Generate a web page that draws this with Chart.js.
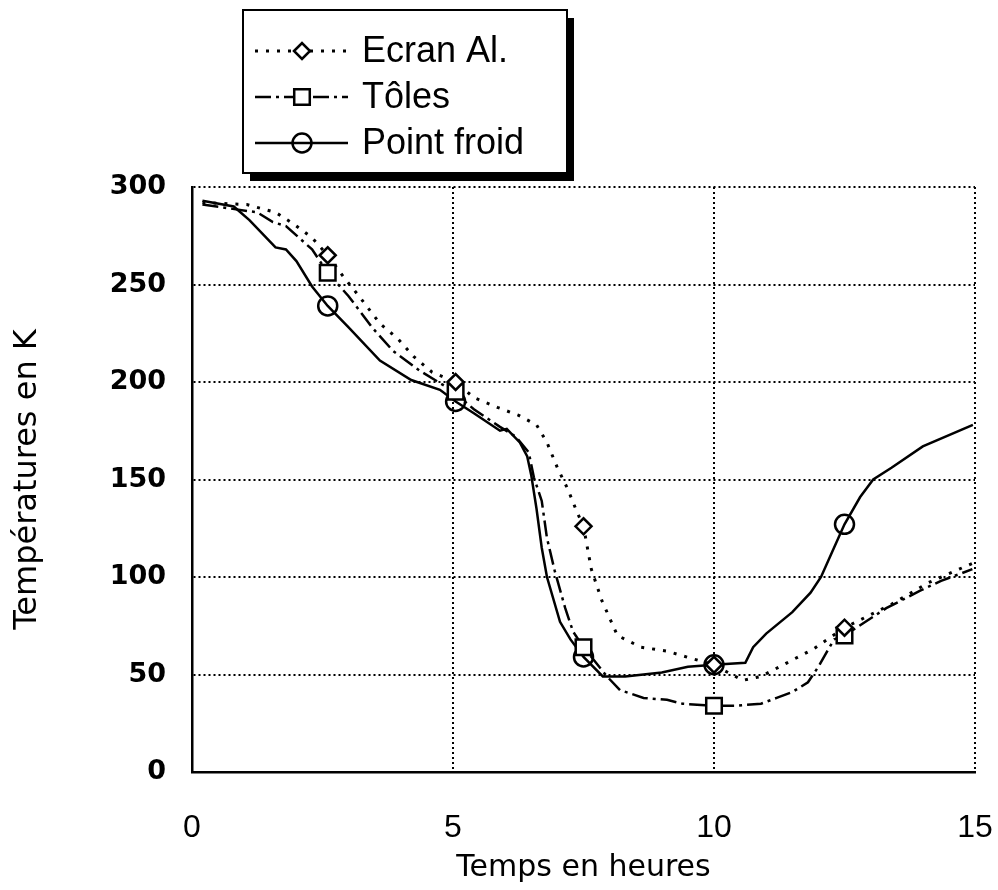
<!DOCTYPE html>
<html>
<head>
<meta charset="utf-8">
<script src="https://cdn.jsdelivr.net/npm/chart.js@4.4.1/dist/chart.umd.min.js"></script>
<style>
  html, body { margin: 0; padding: 0; background: #fff; }
</style>
</head>
<body>
<canvas id="chart" width="998" height="890"></canvas>
<script>
const seriesNames = ['Ecran Al.', 'Tôles', 'Point froid'];
const xTicks = [0, 5, 10, 15];
const yTicks = [0, 50, 100, 150, 200, 250, 300];

// courbes (heures, K)
const ecranX = [0.2, 1.05, 1.6, 1.95, 2.3, 2.6, 2.9, 3.2, 3.6, 3.95, 4.25, 4.6, 5.05, 5.4, 5.85, 6.25, 6.6, 6.8, 7.0, 7.2, 7.38, 7.5, 7.65, 7.85, 8.15, 8.6, 9.1, 9.6, 10.0, 10.2, 10.55, 10.9, 11.4, 11.9, 12.5, 12.95, 13.4, 14.1, 14.95];
const ecranY = [292, 291, 287, 281, 274, 265, 254, 244, 230, 222, 213, 205, 200, 192, 187, 183, 178, 169, 156, 145, 133, 126, 104, 88, 70, 64, 62, 58, 55, 52, 47, 49, 56, 63, 74, 80, 86, 97, 107];

const tolesX = [0.2, 1.25, 1.55, 1.8, 2.3, 2.6, 3.0, 3.45, 3.85, 4.35, 4.9, 5.05, 5.4, 5.9, 6.2, 6.45, 6.55, 6.7, 6.8, 6.95, 7.15, 7.3, 7.5, 7.95, 8.2, 8.65, 9.1, 9.4, 10.0, 10.4, 10.9, 11.2, 11.5, 11.8, 12.0, 12.3, 12.5, 13.3, 13.95, 14.35, 14.95];
const tolesY = [291, 287, 282, 280, 268, 256, 244, 228, 216, 206, 197, 194, 186, 177, 172, 164, 151, 139, 120, 103, 84, 72, 64, 49, 42, 38, 37, 35, 34, 34, 35, 38, 41, 46, 54, 68, 70, 84, 93, 98, 104];

const froidX = [0.2, 0.8, 1.1, 1.6, 1.8, 2.0, 2.3, 2.6, 3.0, 3.6, 4.2, 4.75, 5.05, 5.4, 5.9, 6.03, 6.28, 6.42, 6.5, 6.6, 6.7, 6.8, 7.05, 7.25, 7.5, 7.87, 8.3, 9.0, 9.5, 10.0, 10.6, 10.75, 11.0, 11.5, 11.85, 12.05, 12.25, 12.5, 12.8, 13.05, 13.4, 14.0, 14.96];
const froidY = [293, 290, 283, 269, 268, 262, 249, 239, 228, 211, 201, 196, 190, 184, 175, 176, 169, 162, 152, 135, 115, 100, 77, 68, 59, 49, 49, 51, 54, 55, 56, 64, 71, 82, 92, 100, 112, 127, 141, 150, 156, 167, 178];

// symboles
const markerX = [2.6, 5.05, 7.5, 10.0, 12.5];
const ecranMarkY = [265, 200, 126, 55, 74];
const tolesMarkY = [256, 195, 64, 34, 70];
const froidMarkY = [239, 190, 59, 55, 127];

const pts = (xs, ys) => xs.map((x, i) => ({ x: x, y: ys[i] }));

const styles = [
  { dash: [3, 8], width: 3, point: 'rectRot', radius: 8, fill: '#fff' },
  { dash: [16, 5, 3, 5], width: 2.5, point: 'rect', radius: 11, fill: '#fff' },
  { dash: [], width: 2.5, point: 'circle', radius: 9.5, fill: 'rgba(0,0,0,0)' }
];

function lineSet(label, data, s) {
  return {
    label: label, data: data, order: 2,
    borderColor: '#000', borderWidth: s.width, borderDash: s.dash,
    pointRadius: 0, tension: 0, fill: false
  };
}
function markSet(label, data, s) {
  return {
    label: label, data: data, order: 1, showLine: false,
    pointStyle: s.point, pointRadius: s.radius, pointHoverRadius: s.radius,
    pointBorderColor: '#000', pointBackgroundColor: s.fill, pointBorderWidth: 2.5
  };
}

function drawMark(ctx, s, x, y) {
  ctx.beginPath();
  if (s.point === 'circle') {
    ctx.arc(x, y, s.radius, 0, Math.PI * 2);
  } else if (s.point === 'rect') {
    const h = s.radius * Math.SQRT1_2;
    ctx.rect(x - h, y - h, 2 * h, 2 * h);
  } else {
    ctx.moveTo(x - s.radius, y); ctx.lineTo(x, y - s.radius);
    ctx.lineTo(x + s.radius, y); ctx.lineTo(x, y + s.radius);
    ctx.closePath();
  }
  ctx.fillStyle = s.fill;
  ctx.fill();
  ctx.setLineDash([]);
  ctx.lineWidth = 2.5;
  ctx.strokeStyle = '#000';
  ctx.stroke();
}

const legendBox = {
  id: 'legendBox',
  afterDraw(chart) {
    const ctx = chart.ctx;
    ctx.save();
    ctx.fillStyle = '#000';
    ctx.fillRect(250, 18, 324, 163);
    ctx.fillStyle = '#fff';
    ctx.fillRect(243, 10, 324, 163);
    ctx.lineWidth = 2;
    ctx.strokeStyle = '#000';
    ctx.strokeRect(243, 10, 324, 163);
    seriesNames.forEach((name, i) => {
      const s = styles[i];
      const y = 51 + i * 46;
      ctx.beginPath();
      ctx.setLineDash(s.dash);
      ctx.lineWidth = s.width;
      ctx.moveTo(255, y);
      ctx.lineTo(348, y);
      ctx.stroke();
      drawMark(ctx, s, 302, y);
      ctx.fillStyle = '#000';
      ctx.font = '36px "Liberation Sans", Arial, sans-serif';
      ctx.textBaseline = 'middle';
      ctx.textAlign = 'left';
      ctx.fillText(name, 362, y + 1);
    });
    ctx.restore();
  }
};

new Chart(document.getElementById('chart'), {
  type: 'scatter',
  data: {
    datasets: [
      lineSet(seriesNames[0], pts(ecranX, ecranY), styles[0]),
      lineSet(seriesNames[1], pts(tolesX, tolesY), styles[1]),
      lineSet(seriesNames[2], pts(froidX, froidY), styles[2]),
      markSet(seriesNames[0], pts(markerX, ecranMarkY), styles[0]),
      markSet(seriesNames[1], pts(markerX, tolesMarkY), styles[1]),
      markSet(seriesNames[2], pts(markerX, froidMarkY), styles[2])
    ]
  },
  options: {
    responsive: false,
    animation: false,
    showLine: true,
    layout: { padding: { top: 187, right: 23, left: 0, bottom: 0 } },
    scales: {
      x: {
        type: 'linear', min: 0, max: 15,
        afterBuildTicks: (s) => { s.ticks = xTicks.map(v => ({ value: v })); },
        afterFit: (s) => { s.height = 118; },
        // tick marks invisibles : elles servent seulement à descendre les étiquettes
        grid: { color: '#000', lineWidth: 2, drawTicks: true, tickLength: 37, tickColor: 'rgba(0,0,0,0)' },
        border: { color: '#000', width: 2.5, dash: [2, 3] },
        ticks: { color: '#000', padding: 0, font: { family: '"Liberation Sans", Arial, sans-serif', size: 32 } },
        title: {
          display: true, text: 'Temps en heures', color: '#000',
          font: { family: '"DejaVu Sans", sans-serif', size: 30 },
          padding: { top: 0, bottom: 4 }
        }
      },
      y: {
        min: 0, max: 300,
        afterBuildTicks: (s) => { s.ticks = yTicks.map(v => ({ value: v })); },
        afterFit: (s) => { s.width = 192; },
        grid: { color: '#000', lineWidth: 2, drawTicks: false },
        border: { color: '#000', width: 2.5, dash: [2, 3] },
        ticks: { color: '#000', padding: 26, font: { family: '"DejaVu Sans", sans-serif', size: 27, weight: 'bold' } },
        title: {
          display: true, text: 'Températures en K', color: '#000',
          font: { family: '"DejaVu Sans", sans-serif', size: 32 },
          padding: { top: 8, bottom: 0 }
        }
      }
    },
    plugins: {
      legend: { display: false },
      tooltip: { enabled: false }
    }
  },
  plugins: [legendBox]
});
</script>
</body>
</html>
